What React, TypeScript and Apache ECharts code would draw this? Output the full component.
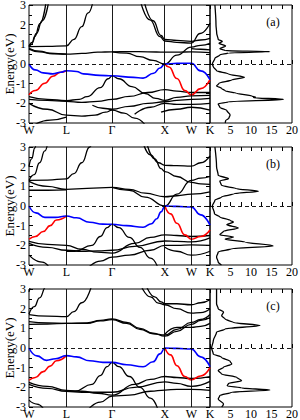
import React, { useEffect, useRef } from "react";
import * as echarts from "echarts";

// high-symmetry k positions (FCC path W-L-Γ-X-W-K)
const W = 0, L = 0.707, G = 1.573, X = 2.573, W2 = 3.073, K = 3.427;
const kPoints = [W, L, G, X, W2, K];
const kLabels = ["W", "L", "Γ", "X", "W", "K"];
const panelNames = ["(a)", "(b)", "(c)"];

// ---------- panel (a) ----------
const bandsA = [
  [[0, 0.85], [0.05, 1.0], [0.11, 1.4], [0.21, 2.07], [0.33, 3.3]],
  [[0, 0.9], [0.06, 1.1], [0.14, 1.55], [0.25, 2.2], [0.38, 3.3]],
  [[0, 0.88], [0.35, 0.9], [L, 0.92], [0.85, 1.25], [1.0, 1.9], [1.12, 2.6], [1.22, 3.3]],
  [[0, 0.8], [0.2, 0.65], [0.4, 0.55], [L, 0.5], [1.0, 0.54], [1.3, 0.6], [G, 0.62], [1.9, 0.63], [2.25, 0.62], [X, 0.6], [2.8, 0.6], [W2, 0.62], [K, 0.58]],
  [[0, 0.76], [0.2, 0.62], [0.45, 0.52], [L, 0.5]],
  [[G, 0.62], [1.85, 0.55], [2.1, 0.37], [2.35, 0.18], [X, 0], [2.8, 0.45], [W2, 0.86], [3.25, 0.95], [K, 1.05]],
  [[2.1, 3.3], [2.29, 2.24], [2.48, 1.39], [X, 1.17], [2.8, 1.1], [W2, 1.06], [3.24, 1.55], [K, 2.07]],
  [[2.17, 3.3], [2.35, 2.2], [2.5, 1.45], [X, 1.25], [2.8, 1.2], [W2, 1.15], [3.25, 1.22], [K, 1.3]],
  [[W2, 0.78], [3.25, 0.75], [K, 0.72]],
  [[0, -1.66], [0.35, -1.8], [L, -1.86], [0.95, -1.8], [1.1, -1.66], [1.35, -1.2], [1.5, -0.75], [G, -0.6], [1.7, -0.75], [1.95, -1.15], [2.2, -1.5], [2.4, -1.75], [X, -1.85], [2.8, -1.7], [W2, -1.62], [K, -1.6]],
  [[0, -1.8], [0.35, -1.85], [L, -1.9], [1.0, -1.95], [1.3, -1.9], [G, -1.8], [1.9, -1.65], [2.25, -1.45], [X, -1.3], [2.8, -1.38], [W2, -1.45], [K, -1.45]],
  [[0, -2.0], [0.35, -2.3], [L, -2.6], [1.0, -2.65], [1.25, -2.6], [1.45, -2.45], [G, -2.35], [1.8, -2.5], [2.0, -2.75], [2.2, -3.1]],
  [[1.2, -2.1], [1.4, -2.25], [G, -2.3], [1.9, -2.15], [2.25, -2.0], [X, -1.92], [2.8, -1.85], [W2, -1.8], [K, -1.75]],
  [[2.0, -2.55], [2.3, -2.2], [X, -2.0], [2.8, -2.05], [W2, -2.05], [K, -2.0]],
  [[2.5, -2.45], [2.8, -2.3], [W2, -2.2], [K, -2.35]],
  [[0.1, -3.1], [0.4, -2.85], [L, -2.7]],
];
const blueA = [[0, 0], [0.12, -0.3], [0.27, -0.45], [0.45, -0.5], [0.6, -0.42], [L, -0.34], [0.9, -0.38], [1.03, -0.5], [1.34, -0.58], [G, -0.6], [1.98, -0.68], [2.16, -0.72], [2.36, -0.47], [2.48, -0.2], [X, 0], [2.8, 0.03], [W2, 0.04], [3.25, -0.35], [K, -0.8]];
const redA = [
  [[0, -1.57], [0.12, -1.35], [0.3, -0.98], [0.45, -0.62], [0.6, -0.42], [L, -0.34]],
  [[X, 0], [2.65, -0.15], [2.8, -0.74], [2.95, -1.35], [W2, -1.57], [3.25, -1.25], [K, -0.8]],
];
const dosA = [[1.2, 3.0], [1.46, 2.0], [1.63, 1.56], [2.0, 1.25], [3.0, 1.15], [2.2, 1.05], [3.8, 0.92], [2.4, 0.78], [3.7, 0.68], [14.6, 0.63], [4.5, 0.56], [2.4, 0.46], [1.2, 0.29], [0.57, 0], [0.8, -0.14], [1.6, -0.34], [4.5, -0.51], [8.4, -0.68], [5.3, -0.81], [2.2, -0.98], [1.6, -1.12], [2.85, -1.24], [3.7, -1.36], [6.5, -1.49], [10.2, -1.63], [11.1, -1.68], [10.6, -1.71], [17.9, -1.8], [4.5, -1.92], [2.0, -2.03], [2.4, -2.2], [4.1, -2.37], [4.9, -2.59], [4.6, -2.76], [3.8, -2.88], [3.7, -3.0]];

// ---------- panel (b) ----------
const bandsB = [
  [[0, 2.0], [0.05, 2.4], [0.11, 2.95], [0.14, 3.3]],
  [[0, 1.3], [0.1, 1.6], [0.2, 2.2], [0.3, 2.8], [0.36, 3.3]],
  [[0, 1.3], [0.35, 1.32], [L, 1.38], [0.85, 1.65], [1.0, 2.2], [1.15, 3.0], [1.2, 3.3]],
  [[0, 1.25], [0.35, 1.0], [L, 0.85], [1.1, 0.9], [G, 0.95], [1.9, 0.85], [2.2, 0.65], [X, 0.47], [2.8, 0.52], [W2, 0.6], [K, 0.72]],
  [[0, 0.8], [0.35, 0.8], [L, 0.82]],
  [[G, 0.95], [1.9, 0.8], [2.2, 0.45], [X, 0], [2.8, 0.6], [W2, 1.3], [3.25, 1.42], [K, 1.5]],
  [[2.15, 3.3], [2.3, 2.6], [2.45, 2.2], [X, 2.07], [2.8, 2.05], [W2, 2.03], [3.25, 2.2], [K, 2.55]],
  [[2.22, 3.3], [2.38, 2.4], [2.5, 1.9], [X, 1.75], [2.8, 1.5], [W2, 1.2], [3.25, 1.12], [K, 1.1]],
  [[L, -2.3], [0.87, -2.3], [1.19, -2.0], [1.35, -1.55], [1.48, -1.1], [G, -0.93], [1.7, -1.1], [1.9, -1.6], [2.1, -2.1], [2.3, -2.65], [2.45, -3.2]],
  [[0, -1.8], [0.35, -1.95], [L, -2.0], [1.0, -2.2], [1.3, -2.35], [G, -2.4], [2.0, -1.9], [2.3, -1.6], [X, -1.47], [2.8, -1.5], [W2, -1.55], [K, -1.5]],
  [[0, -1.9], [0.35, -2.1], [L, -2.25], [1.0, -2.3], [1.3, -2.28], [G, -2.25], [2.0, -2.05], [X, -1.78], [2.8, -1.8], [W2, -1.82], [K, -1.62]],
  [[0, -2.5], [0.25, -2.85], [0.4, -3.2]],
  [[1.1, -3.2], [1.35, -2.8], [G, -2.6], [1.9, -2.5], [2.3, -2.25], [X, -2.0], [2.8, -2.0], [W2, -1.98], [K, -2.0]],
  [[X, -2.1], [2.8, -2.3], [W2, -2.5], [K, -2.3]],
];
const blueB = [[0, 0], [0.13, -0.35], [0.3, -0.58], [0.5, -0.58], [L, -0.51], [0.9, -0.6], [1.15, -0.83], [1.4, -0.92], [G, -0.93], [1.85, -1.0], [2.16, -1.08], [2.32, -0.9], [2.42, -0.65], [2.5, -0.3], [X, 0], [2.8, -0.02], [W2, -0.05], [3.25, -0.45], [K, -0.97]];
const redB = [
  [[0, -1.69], [0.12, -1.55], [0.27, -1.3], [0.4, -1.0], [0.52, -0.71], [L, -0.51]],
  [[X, 0], [2.68, -0.4], [2.8, -0.88], [2.95, -1.47], [W2, -1.69], [3.25, -1.55], [K, -1.22]],
];
const dosB = [[1.2, 3.0], [1.6, 2.0], [2.0, 1.56], [4.5, 1.39], [2.4, 1.27], [2.8, 1.05], [6.5, 0.88], [11.8, 0.75], [6.0, 0.63], [2.8, 0.46], [1.2, 0.29], [0.57, 0], [1.1, -0.39], [2.4, -0.56], [4.9, -0.73], [5.7, -0.81], [4.1, -0.95], [6.9, -1.12], [3.3, -1.29], [2.4, -1.46], [5.7, -1.58], [3.7, -1.69], [8.5, -1.83], [15.4, -2.03], [5.3, -2.17], [2.0, -2.34], [1.6, -2.59], [2.0, -2.85], [2.8, -3.0]];

// ---------- panel (c) ----------
const bandsC = [
  [[0, 2.85], [0.04, 3.3]],
  [[0, 1.73], [0.1, 2.1], [0.2, 2.55], [0.32, 3.1], [0.34, 3.3]],
  [[0, 1.7], [0.35, 1.62], [L, 1.6], [0.85, 1.85], [1.0, 2.3], [1.2, 3.3]],
  [[0, 1.34], [0.35, 1.28], [L, 1.25], [1.1, 1.28], [1.35, 1.4], [G, 1.48], [1.85, 1.3], [2.1, 1.0], [2.35, 0.75], [X, 0.6], [2.8, 0.85], [W2, 1.2], [3.25, 1.4], [K, 1.55]],
  [[0, 1.2], [0.35, 1.22], [L, 1.25], [1.1, 1.25], [1.35, 1.38], [G, 1.44], [1.85, 1.25], [2.1, 0.95], [2.35, 0.72], [X, 0.66], [2.8, 0.95], [W2, 1.3], [3.25, 1.45], [K, 1.7]],
  [[2.1, 3.3], [2.3, 2.6], [2.45, 2.28], [X, 2.2], [2.8, 2.0], [W2, 1.77], [3.25, 1.8], [K, 2.0]],
  [[2.2, 3.3], [2.38, 2.6], [2.5, 2.35], [X, 2.25], [2.8, 2.25], [W2, 2.2], [3.25, 2.3], [K, 2.45]],
  [[X, 0.7], [2.8, 1.05], [W2, 1.05], [3.25, 1.1], [K, 1.25]],
  [[L, -2.2], [0.87, -2.2], [1.19, -1.85], [1.35, -1.4], [1.48, -0.95], [G, -0.73], [1.7, -0.95], [1.9, -1.45], [2.1, -2.0], [2.3, -2.55], [2.45, -3.2]],
  [[0, -1.75], [0.35, -1.95], [L, -2.15], [1.0, -2.2], [1.3, -2.3], [G, -2.4], [2.0, -1.85], [2.3, -1.6], [X, -1.45], [2.8, -1.5], [W2, -1.55], [K, -1.45]],
  [[0, -1.85], [0.35, -2.05], [L, -2.2], [1.0, -2.25], [1.3, -2.25], [G, -2.25], [2.0, -2.0], [X, -1.72], [2.8, -1.8], [W2, -1.95], [K, -1.7]],
  [[0, -2.65], [0.15, -2.85], [0.3, -3.2]],
  [[1.1, -3.2], [1.35, -2.75], [G, -2.45], [1.9, -2.4], [2.3, -2.2], [X, -2.14], [2.8, -2.1], [W2, -2.1], [K, -2.15]],
];
const blueC = [[0, 0], [0.15, -0.4], [0.33, -0.63], [0.5, -0.55], [L, -0.39], [0.9, -0.45], [1.15, -0.65], [1.4, -0.73], [G, -0.73], [1.85, -0.85], [2.16, -0.95], [2.35, -0.7], [2.48, -0.3], [X, 0], [2.8, -0.02], [W2, -0.05], [3.25, -0.45], [K, -0.95]];
const redC = [
  [[0, -1.64], [0.12, -1.5], [0.27, -1.2], [0.4, -0.92], [0.52, -0.65], [L, -0.39]],
  [[X, 0], [2.68, -0.35], [2.8, -0.9], [2.95, -1.45], [W2, -1.62], [3.25, -1.42], [K, -1.0]],
];
const dosC = [[1.6, 3.0], [1.6, 2.25], [2.0, 2.0], [3.3, 1.83], [2.85, 1.64], [3.7, 1.47], [5.7, 1.3], [12.2, 1.14], [3.7, 0.97], [1.6, 0.8], [0.8, 0.37], [0.4, 0], [0.8, -0.31], [2.8, -0.47], [4.9, -0.68], [5.3, -0.81], [3.3, -0.98], [2.0, -1.15], [2.8, -1.32], [6.5, -1.49], [7.7, -1.66], [4.5, -1.8], [4.2, -1.92], [7.7, -2.03], [14.6, -2.14], [5.3, -2.25], [2.4, -2.42], [2.0, -2.59], [3.3, -2.85], [2.85, -3.0]];

const panels = [
  { bands: bandsA, blue: blueA, red: redA, dos: dosA },
  { bands: bandsB, blue: blueB, red: redB, dos: dosB },
  { bands: bandsC, blue: blueC, red: redC, dos: dosC },
];

const FONT = '"Liberation Serif", "Times New Roman", serif';
const tops = [5, 147, 289];
const H = 118;
const bandLeft = 29, bandW = 181, dosLeft = 210, dosW = 82;

function buildOption() {
  const grid: any[] = [];
  const xAxis: any[] = [];
  const yAxis: any[] = [];
  const series: any[] = [];
  const graphic: any[] = [];

  panels.forEach((p, i) => {
    const top = tops[i];
    const gridBase = { top, height: H, show: true, borderColor: "#000", borderWidth: 1, backgroundColor: "transparent", containLabel: false, outerBoundsMode: "none" };
    grid.push({ ...gridBase, left: bandLeft, width: bandW });
    grid.push({ ...gridBase, left: dosLeft, width: dosW });
    const gB = i * 2, gD = i * 2 + 1;
    const xB = i * 3, xD = i * 3 + 1;
    const yB = i * 2, yD = i * 2 + 1;

    xAxis.push({
      type: "value", gridIndex: gB, min: 0, max: K,
      axisLine: { show: false }, splitLine: { show: false },
      axisTick: { show: false },
      axisLabel: {
        customValues: kPoints,
        formatter: (v: number) => {
          let idx = 0, best = 1e9;
          kPoints.forEach((k, j) => { if (Math.abs(k - v) < best) { best = Math.abs(k - v); idx = j; } });
          return kLabels[idx];
        },
        color: "#000", fontFamily: FONT, fontSize: 12, margin: 1,
      },
    });
    xAxis.push({
      type: "value", gridIndex: gD, min: 0, max: 20, interval: 5,
      axisLine: { show: false }, splitLine: { show: false },
      axisTick: { show: true, inside: true, length: 4, lineStyle: { color: "#000" } },
      minorTick: { show: true, splitNumber: 2, length: 4, lineStyle: { color: "#000" } },
      axisLabel: { color: "#000", fontFamily: FONT, fontSize: 12, margin: 1, formatter: (v: number) => (v === 0 ? "" : String(v)) },
    });
    xAxis.push({
      type: "value", gridIndex: gD, position: "top", min: 0, max: 20, interval: 5,
      axisLine: { show: false }, splitLine: { show: false },
      axisTick: { show: true, inside: true, length: 4, lineStyle: { color: "#000" } },
      minorTick: { show: true, splitNumber: 2, length: 4, lineStyle: { color: "#000" } },
      axisLabel: { show: false },
    });
    yAxis.push({
      type: "value", gridIndex: gB, min: -3, max: 3, interval: 1,
      name: "Energy(eV)", nameLocation: "middle", nameGap: 13, nameMoveOverlap: false,
      nameTextStyle: { color: "#000", fontFamily: FONT, fontSize: 13 },
      axisLine: { show: false }, splitLine: { show: false },
      axisTick: { show: true, inside: true, length: 4, lineStyle: { color: "#000" } },
      minorTick: { show: true, splitNumber: 2, length: 3, lineStyle: { color: "#000" } },
      axisLabel: { color: "#000", fontFamily: FONT, fontSize: 12, margin: 3 },
    });
    yAxis.push({
      type: "value", gridIndex: gD, min: -3, max: 3, interval: 1, position: "right",
      axisLine: { show: false }, splitLine: { show: false },
      axisTick: { show: true, inside: true, length: 4, lineStyle: { color: "#000" } },
      minorTick: { show: true, splitNumber: 2, length: 4, lineStyle: { color: "#000" } },
      axisLabel: { show: false },
    });

    // vertical high-symmetry lines + zero line carrier
    series.push({
      type: "line", xAxisIndex: xB, yAxisIndex: yB, data: [], symbol: "none", silent: true,
      markLine: {
        silent: true, symbol: ["none", "none"], label: { show: false }, animation: false,
        lineStyle: { color: "#000", width: 0.9, type: "solid" },
        data: [
          { xAxis: L }, { xAxis: G }, { xAxis: X }, { xAxis: W2 },
          { yAxis: 0, lineStyle: { color: "#000", width: 0.9, type: [4, 3] } },
        ],
      },
    });
    p.bands.forEach((b) => {
      series.push({
        type: "line", xAxisIndex: xB, yAxisIndex: yB, data: b, symbol: "none",
        smooth: 0.5, smoothMonotone: "x", clip: true, silent: true,
        lineStyle: { color: "#000", width: 1.3 },
      });
    });
    p.red.forEach((b) => {
      series.push({
        type: "line", xAxisIndex: xB, yAxisIndex: yB, data: b, symbol: "none",
        smooth: 0.5, smoothMonotone: "x", clip: true, silent: true,
        lineStyle: { color: "#ff0000", width: 1.6 },
      });
    });
    series.push({
      type: "line", xAxisIndex: xB, yAxisIndex: yB, data: p.blue, symbol: "none",
      smooth: 0.5, smoothMonotone: "x", clip: true, silent: true,
      lineStyle: { color: "#0000ff", width: 1.6 },
    });
    series.push({
      type: "line", xAxisIndex: xD, yAxisIndex: yD, data: p.dos, symbol: "none",
      smooth: 0.3, smoothMonotone: "y", clip: true, silent: true,
      lineStyle: { color: "#000", width: 1.3 },
      markLine: {
        silent: true, symbol: ["none", "none"], label: { show: false }, animation: false,
        lineStyle: { color: "#000", width: 0.9, type: [4, 3] },
        data: [{ yAxis: 0 }],
      },
    });

    graphic.push({
      type: "text", x: 273, y: top + 17,
      style: { text: panelNames[i], font: '12px "Liberation Serif"', fill: "#000", align: "center", verticalAlign: "middle" },
    });
  });

  return { animation: false, backgroundColor: "#fff", grid, xAxis, yAxis, series, graphic };
}

export default function App() {
  const ref = useRef<HTMLDivElement>(null);
  useEffect(() => {
    if (!ref.current) return;
    const chart = echarts.init(ref.current, undefined, { renderer: "svg" });
    chart.setOption(buildOption() as any);
    return () => chart.dispose();
  }, []);
  return <div ref={ref} style={{ position: "fixed", left: 0, top: 0, width: 300, height: 420 }} />;
}
